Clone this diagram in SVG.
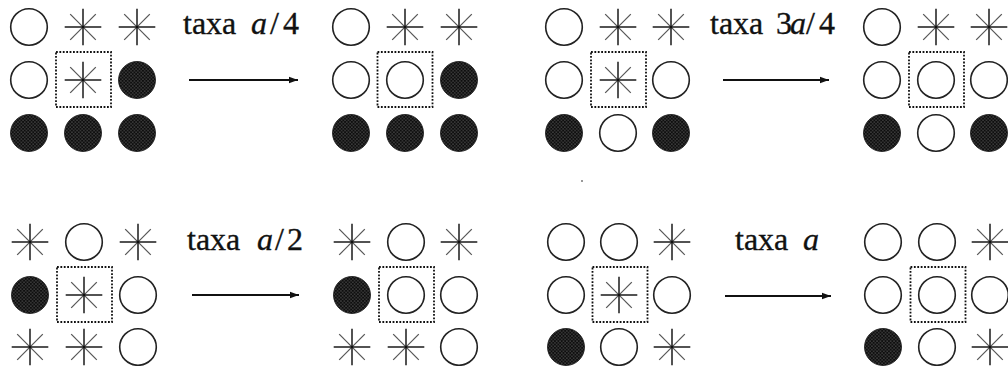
<svg xmlns="http://www.w3.org/2000/svg" xmlns:xlink="http://www.w3.org/1999/xlink" width="1008" height="366" viewBox="0 0 1008 366">
<style>
.o{fill:none;stroke:#222;stroke-width:1.6}
.f{fill:url(#ht);stroke:#111;stroke-width:0.8}
.hv{stroke:#1a1a1a;stroke-width:1.5}
.dg{stroke:#555;stroke-width:1.2}
.box{fill:none;stroke:#111;stroke-width:1.8;stroke-dasharray:1.8 1.6}
.lbl{font-family:"Liberation Serif","DejaVu Serif",serif;font-size:32px;fill:#111;stroke:#111;stroke-width:0.35}
.it{font-style:italic}
.arr{stroke:#111;stroke-width:1.8;fill:none}
</style>
<defs>
<pattern id="ht" width="3.4" height="3.4" patternUnits="userSpaceOnUse">
<rect width="3.4" height="3.4" fill="#0e0e0e"/>
<circle cx="0.85" cy="0.85" r="0.5" fill="#bbb"/>
<circle cx="2.55" cy="2.55" r="0.5" fill="#bbb"/>
</pattern>
<circle id="o" r="18.3" class="o"/>
<circle id="f" r="18.5" class="f"/>
<g id="s">
<line x1="-12.8" y1="-12.8" x2="12.8" y2="12.8" class="dg"/>
<line x1="-12.8" y1="12.8" x2="12.8" y2="-12.8" class="dg"/>
<line x1="-18.3" y1="0" x2="18.3" y2="0" class="hv"/>
<line x1="0" y1="-18.3" x2="0" y2="18.3" class="hv"/>
<circle r="1.3" fill="#111"/>
</g>
<rect id="bx" x="-27.5" y="-27.5" width="55" height="55" class="box"/>
<marker id="ah" markerWidth="10" markerHeight="8" refX="9" refY="4" orient="auto" markerUnits="userSpaceOnUse">
<path d="M0,0.8 L9,4 L0,7.2 Z" fill="#111"/>
</marker>
</defs>

<g id="tl-before">
<use href="#o" x="29" y="27"/><use href="#s" x="83" y="27"/><use href="#s" x="137" y="27"/>
<use href="#o" x="29" y="80"/><use href="#s" x="83" y="80"/><use href="#f" x="137" y="80"/>
<use href="#f" x="29" y="133"/><use href="#f" x="83" y="133"/><use href="#f" x="137" y="133"/>
<use href="#bx" x="83.5" y="79.5"/>
</g>
<g id="tl-after">
<use href="#o" x="351" y="27"/><use href="#s" x="405" y="27"/><use href="#s" x="459" y="27"/>
<use href="#o" x="351" y="80"/><use href="#o" x="405" y="80"/><use href="#f" x="459" y="80"/>
<use href="#f" x="351" y="133"/><use href="#f" x="405" y="133"/><use href="#f" x="459" y="133"/>
<use href="#bx" x="405" y="79.5"/>
</g>
<g id="tr-before">
<use href="#o" x="564" y="27"/><use href="#s" x="618" y="27"/><use href="#s" x="671" y="27"/>
<use href="#o" x="564" y="80"/><use href="#s" x="618" y="80"/><use href="#o" x="671" y="80"/>
<use href="#f" x="564" y="133"/><use href="#o" x="618" y="133"/><use href="#f" x="671" y="133"/>
<use href="#bx" x="618.5" y="79.5"/>
</g>
<g id="tr-after">
<use href="#o" x="882" y="27"/><use href="#s" x="936" y="27"/><use href="#s" x="989" y="27"/>
<use href="#o" x="882" y="80"/><use href="#o" x="936" y="80"/><use href="#o" x="989" y="80"/>
<use href="#f" x="882" y="133"/><use href="#o" x="936" y="133"/><use href="#f" x="989" y="133"/>
<use href="#bx" x="936.5" y="79.5"/>
</g>
<g id="bl-before">
<use href="#s" x="30" y="242"/><use href="#o" x="84" y="242"/><use href="#s" x="138" y="242"/>
<use href="#f" x="30" y="295"/><use href="#s" x="84" y="295"/><use href="#o" x="138" y="295"/>
<use href="#s" x="30" y="347"/><use href="#s" x="84" y="347"/><use href="#o" x="138" y="347"/>
<use href="#bx" x="84.5" y="294.5"/>
</g>
<g id="bl-after">
<use href="#s" x="352" y="242"/><use href="#o" x="406" y="242"/><use href="#s" x="459" y="242"/>
<use href="#f" x="352" y="295"/><use href="#o" x="406" y="295"/><use href="#o" x="459" y="295"/>
<use href="#s" x="352" y="347"/><use href="#s" x="406" y="347"/><use href="#o" x="459" y="347"/>
<use href="#bx" x="406.5" y="294.5"/>
</g>
<g id="br-before">
<use href="#o" x="566" y="242"/><use href="#o" x="619" y="242"/><use href="#s" x="672" y="242"/>
<use href="#o" x="566" y="295"/><use href="#s" x="619" y="295"/><use href="#o" x="672" y="295"/>
<use href="#f" x="566" y="347"/><use href="#o" x="619" y="347"/><use href="#s" x="672" y="347"/>
<use href="#bx" x="620" y="294.5"/>
</g>
<g id="br-after">
<use href="#o" x="883" y="242"/><use href="#o" x="937" y="242"/><use href="#s" x="990" y="242"/>
<use href="#o" x="883" y="295"/><use href="#o" x="937" y="295"/><use href="#o" x="990" y="295"/>
<use href="#f" x="883" y="347"/><use href="#o" x="937" y="347"/><use href="#s" x="990" y="347"/>
<use href="#bx" x="938" y="294.5"/>
</g>

<g id="connectors">
<line x1="189" y1="80" x2="298" y2="80" class="arr" marker-end="url(#ah)"/>
<line x1="723" y1="80" x2="829" y2="80" class="arr" marker-end="url(#ah)"/>
<line x1="192" y1="295" x2="299" y2="295" class="arr" marker-end="url(#ah)"/>
<line x1="725" y1="296" x2="831" y2="296" class="arr" marker-end="url(#ah)"/>
<text class="lbl" y="34"><tspan x="183">taxa</tspan><tspan x="251" class="it">a</tspan><tspan x="270">/</tspan><tspan x="283">4</tspan></text>
<text class="lbl" y="34"><tspan x="710">taxa</tspan><tspan x="776">3</tspan><tspan x="790" class="it">a</tspan><tspan x="806">/</tspan><tspan x="819">4</tspan></text>
<text class="lbl" y="250"><tspan x="187">taxa</tspan><tspan x="257" class="it">a</tspan><tspan x="275">/</tspan><tspan x="287">2</tspan></text>
<text class="lbl" y="250"><tspan x="735">taxa</tspan><tspan x="803" class="it">a</tspan></text>
</g>
<circle cx="582" cy="181" r="1" fill="#777"/>
</svg>
